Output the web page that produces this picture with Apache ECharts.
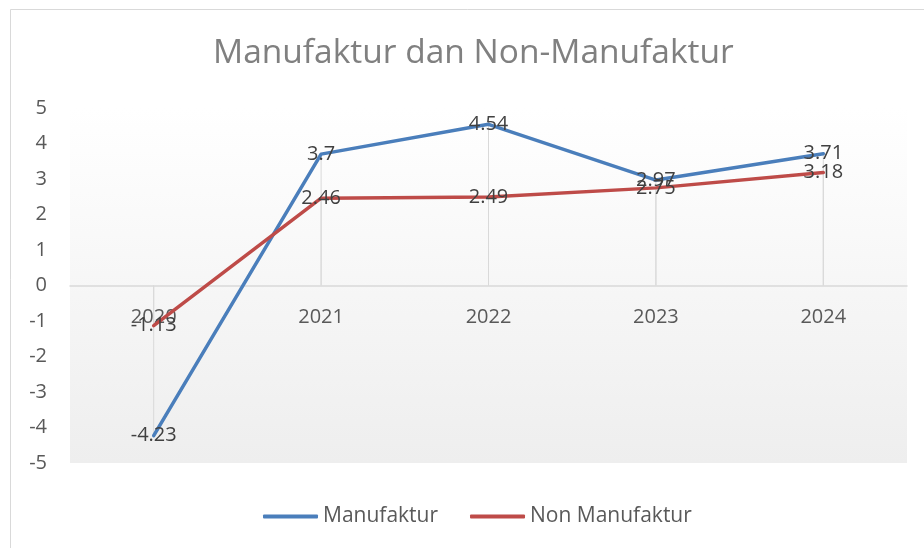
<!DOCTYPE html>
<html>
<head>
<meta charset="utf-8">
<script src="https://cdn.jsdelivr.net/npm/echarts@6/dist/echarts.min.js"></script>
<style>html,body{margin:0;padding:0;background:#fff;}#c{width:924px;height:548px;}</style>
</head>
<body>
<div id="c"></div>
<script>
var categories = ['2020', '2021', '2022', '2023', '2024'];
var manufaktur = [-4.23, 3.7, 4.54, 2.97, 3.71];
var nonManufaktur = [-1.13, 2.46, 2.49, 2.75, 3.18];
var seriesNames = ['Manufaktur', 'Non Manufaktur'];
var titleText = 'Manufaktur dan Non-Manufaktur';

var FONT = 'Open Sans';
var chart = echarts.init(document.getElementById('c'));

function dropBars(vals) {
  return {
    type: 'bar', data: vals, barWidth: 1, barGap: '-100%', silent: true,
    itemStyle: { color: '#d9d9d9' }, z: 1, legendHoverLink: false
  };
}
function lineSeries(name, vals, color) {
  return {
    name: name, type: 'line', data: vals, symbol: 'circle', symbolSize: 1, showSymbol: true, z: 3,
    lineStyle: { color: color, width: 3.5, cap: 'round', join: 'round' },
    itemStyle: { color: color },
    label: { show: true, position: 'inside', color: '#404040', fontFamily: FONT, fontSize: 20, formatter: function (p) { return String(p.value); } }
  };
}

chart.setOption({
  animation: false,
  backgroundColor: '#fff',
  graphic: [{
    type: 'rect', shape: { x: 10.5, y: 9.5, width: 930, height: 560 },
    style: { fill: 'none', stroke: '#d9d9d9', lineWidth: 1 }, z: -10
  }],
  title: {
    text: titleText, left: 208, top: 31,
    textStyle: { fontFamily: FONT, fontSize: 33.5, fontWeight: 'normal', color: '#808080' }
  },
  legend: {
    data: seriesNames, top: 501, left: 258, itemGap: 32,
    itemWidth: 55, itemHeight: 4, icon: 'roundRect',
    textStyle: { fontFamily: FONT, fontSize: 21, color: '#595959' }
  },
  grid: {
    left: 70, right: 17, top: 108, bottom: 85, show: true, borderWidth: 0,
    backgroundColor: new echarts.graphic.LinearGradient(0, 0, 0, 1, [
      { offset: 0, color: '#ffffff' }, { offset: 1, color: '#eeeeee' }
    ])
  },
  xAxis: {
    type: 'category', data: categories, boundaryGap: true, offset: -177.5,
    axisLine: { show: true, onZero: false, lineStyle: { color: '#d9d9d9', width: 1.5 } },
    axisTick: { show: false },
    axisLabel: { color: '#595959', fontFamily: FONT, fontSize: 20, margin: 22 },
    splitLine: { show: false }
  },
  yAxis: {
    type: 'value', min: -5, max: 5, interval: 1,
    axisLine: { show: false }, axisTick: { show: false },
    splitLine: { show: false },
    axisLabel: { color: '#595959', fontFamily: FONT, fontSize: 20, margin: 23 }
  },
  series: [
    dropBars(manufaktur),
    dropBars(nonManufaktur),
    lineSeries(seriesNames[0], manufaktur, '#4a7ebb'),
    lineSeries(seriesNames[1], nonManufaktur, '#be4b48')
  ]
});
</script>
</body>
</html>
